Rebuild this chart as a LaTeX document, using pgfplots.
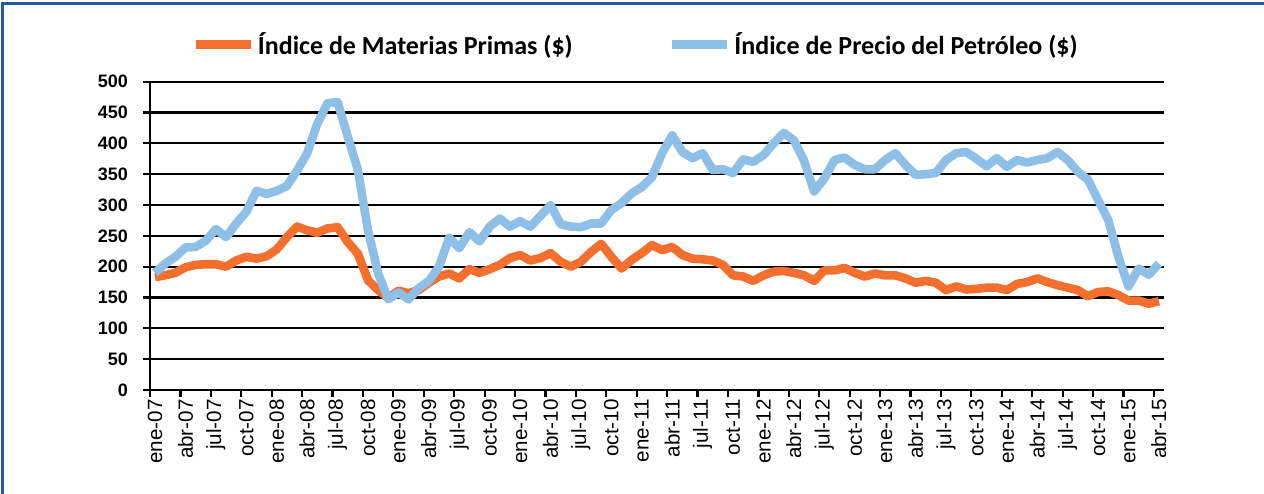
\documentclass[border=0pt]{standalone}
\usepackage{fontspec}
\setmainfont{Liberation Sans}
\newfontfamily\legfont{Carlito}
\usepackage{pgfplots}
\pgfplotsset{compat=1.18}
\usepackage{pgfplotstable}
\definecolor{orangeline}{RGB}{242,111,45}
\definecolor{blueline}{RGB}{142,191,230}
\definecolor{frameblue}{RGB}{30,90,165}

\pgfplotstableread{
i mp pet
0 183 190
1 186 205
2 190 216
3 199 231
4 203 232
5 204 242
6 204 261
7 200 248
8 210 270
9 216 289
10 213 323
11 217 318
12 228 323
13 248 331
14 265 356
15 259 384
16 255 432
17 262 465
18 264 467
19 240 411
20 221 357
21 178 259
22 162 189
23 149 147
24 161 158
25 157 147
26 162 165
27 174 177
28 184 200
29 189 247
30 181 230
31 196 256
32 190 241
33 196 265
34 203 278
35 214 265
36 219 274
37 210 265
38 214 282
39 222 300
40 208 269
41 200 265
42 208 264
43 224 270
44 237 270
45 216 292
46 197 303
47 211 319
48 222 329
49 235 345
50 227 384
51 232 413
52 219 386
53 213 376
54 212 384
55 210 357
56 203 358
57 186 352
58 184 374
59 177 370
60 186 381
61 192 400
62 193 417
63 190 405
64 186 372
65 177 322
66 194 343
67 194 373
68 198 377
69 190 365
70 184 358
71 189 358
72 186 373
73 186 384
74 181 365
75 174 349
76 177 350
77 174 352
78 162 373
79 168 384
80 163 386
81 164 375
82 166 363
83 166 376
84 162 362
85 172 373
86 175 369
87 181 373
88 175 376
89 170 386
90 166 373
91 162 354
92 152 341
93 159 308
94 160 276
95 154 216
96 145 168
97 145 197
98 140 187
99 144 205
}\datatable

\begin{document}
\begin{tikzpicture}
\path[use as bounding box] (0pt,0pt) rectangle (632pt,246.5pt);
\begin{axis}[
  at={(75pt,51.5pt)}, anchor=south west,
  scale only axis, width=507pt, height=154.15pt,
  xmin=-0.5, xmax=99.5, ymin=0, ymax=500,
  ytick={0,50,...,500},
  xtick={-0.5,2.5,...,98.5},
  xticklabels={ene-07,abr-07,jul-07,oct-07,ene-08,abr-08,jul-08,oct-08,ene-09,abr-09,jul-09,oct-09,ene-10,abr-10,jul-10,oct-10,ene-11,abr-11,jul-11,oct-11,ene-12,abr-12,jul-12,oct-12,ene-13,abr-13,jul-13,oct-13,ene-14,abr-14,jul-14,oct-14,ene-15,abr-15},
  axis x line*=bottom, axis y line*=left,
  axis line style={line width=1.4pt, black},
  ymajorgrids, major grid style={line width=1.1pt, black},
  tick align=outside, major tick length=3.5pt,
  tick style={line width=1.1pt, black},
  /pgf/number format/assume math mode=true,
  yticklabel style={font=\fontsize{9}{10}\selectfont\bfseries, xshift=-4pt},
  xticklabel style={font=\fontsize{10.3}{11}\selectfont, xshift=2.5pt, rotate=90, anchor=east, inner sep=1pt},
  legend columns=2,
  legend style={at={(0.4793,1.12)}, anchor=center, draw=none, fill=none,
    font=\legfont\bfseries\fontsize{13}{15}\selectfont,
    nodes={inner xsep=1.5pt},
    /tikz/every even column/.append style={column sep=46pt}},
  legend image code/.code={\draw[#1, line width=4.3pt] (0pt,0pt) -- (27.5pt,0pt);},
]
\addplot[orangeline, line width=4.3pt, line join=round] table[x=i,y=mp]{\datatable};
\addlegendentry{Índice de Materias Primas (\$)}
\addplot[blueline, line width=4.3pt, line join=round] table[x=i,y=pet]{\datatable};
\addlegendentry{Índice de Precio del Petróleo (\$)}
\end{axis}
\draw[frameblue, line width=1.3pt] (1.25pt,-20pt) -- (1.25pt,244.75pt) -- (700pt,244.75pt);
\end{tikzpicture}
\end{document}
